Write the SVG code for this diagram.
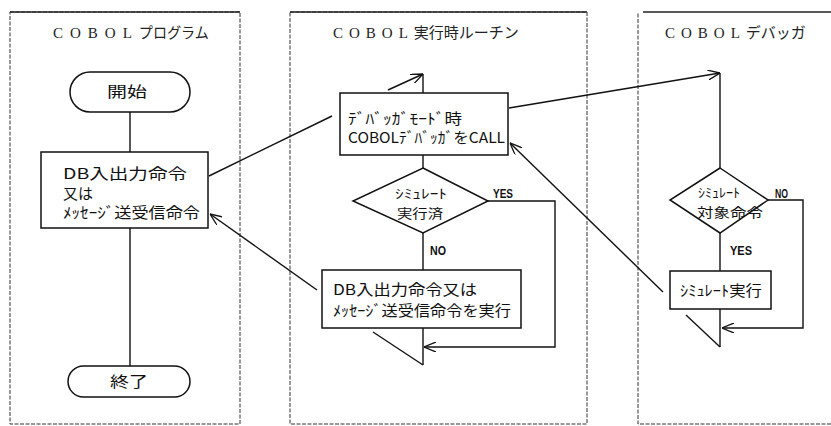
<svg xmlns="http://www.w3.org/2000/svg" width="831" height="426" viewBox="0 0 831 426">
<style>
.frame{fill:none;stroke:#333;stroke-width:1;stroke-dasharray:4 1.5}
.topb{stroke:#222;stroke-width:1.5;fill:none}
.shape{fill:#fff;stroke:#111;stroke-width:1.5}
.ln{fill:none;stroke:#111;stroke-width:1.4}
.title{font-family:"Liberation Serif","Noto Sans CJK JP",serif;font-size:15px;fill:#222}
.t{font-family:"Noto Sans CJK JP","Liberation Sans",sans-serif;font-size:15px;fill:#111}
.d{font-family:"Noto Sans CJK JP","Liberation Sans",sans-serif;font-size:13px;fill:#111}
.lab{font-family:"Liberation Sans","Noto Sans CJK JP",sans-serif;font-size:12px;font-weight:bold;fill:#111}
</style>
<defs>
<marker id="ah" viewBox="0 0 12 10" refX="12" refY="5" markerWidth="12" markerHeight="10" markerUnits="userSpaceOnUse" orient="auto">
<path d="M0,0 L12,5 L0,10" fill="none" stroke="#111" stroke-width="1.3"/>
</marker>
</defs>

<g id="frames">
<rect class="frame" x="10" y="12" width="230" height="412"/>
<line class="topb" x1="10" y1="12" x2="240" y2="12"/>
<rect class="frame" x="290" y="12" width="297" height="412"/>
<line class="topb" x1="290" y1="12" x2="587" y2="12"/>
<path class="frame" d="M831,424 L638,424 L638,12"/>
<line class="topb" x1="643" y1="12" x2="831" y2="12"/>
<text class="title" x="53" y="38"><tspan letter-spacing="7">COBOL</tspan><tspan textLength="70" lengthAdjust="spacingAndGlyphs">プログラム</tspan></text>
<text class="title" x="333" y="38"><tspan letter-spacing="6">COBOL</tspan><tspan>実行時ルーチン</tspan></text>
<text class="title" x="665" y="38"><tspan letter-spacing="6">COBOL</tspan><tspan>デバッガ</tspan></text>
</g>

<g id="connectors">
<line class="ln" x1="130" y1="112" x2="130" y2="152"/>
<line class="ln" x1="130" y1="228" x2="130" y2="366"/>
<line class="ln" x1="209" y1="176" x2="332" y2="116"/>
<line class="ln" x1="317" y1="290" x2="210" y2="214" marker-end="url(#ah)"/>
<line class="ln" x1="388" y1="90" x2="423" y2="74" marker-end="url(#ah)"/>
<line class="ln" x1="423" y1="74" x2="423" y2="93"/>
<line class="ln" x1="423" y1="155" x2="423" y2="168"/>
<line class="ln" x1="423" y1="233" x2="423" y2="270"/>
<line class="ln" x1="423" y1="328" x2="423" y2="365"/>
<line class="ln" x1="373" y1="332" x2="423" y2="365"/>
<polyline class="ln" points="488,201 555,201 555,347 424,347" marker-end="url(#ah)"/>
<line class="ln" x1="509" y1="108" x2="720" y2="73" marker-end="url(#ah)"/>
<line class="ln" x1="720" y1="73" x2="720" y2="168"/>
<line class="ln" x1="720" y1="233" x2="720" y2="271"/>
<line class="ln" x1="720" y1="309" x2="720" y2="347"/>
<line class="ln" x1="686" y1="315" x2="720" y2="347"/>
<polyline class="ln" points="768,200 803,200 803,328 722,328" marker-end="url(#ah)"/>
<line class="ln" x1="663" y1="292" x2="510" y2="143" marker-end="url(#ah)"/>
<text class="lab" x="493" y="198" textLength="20" lengthAdjust="spacingAndGlyphs">YES</text>
<text class="lab" x="430" y="255" textLength="16" lengthAdjust="spacingAndGlyphs">NO</text>
<text class="lab" x="775" y="198" textLength="13" lengthAdjust="spacingAndGlyphs">NO</text>
<text class="lab" x="730" y="255" textLength="22" lengthAdjust="spacingAndGlyphs">YES</text>
</g>

<g id="start">
<rect class="shape" x="70" y="72" width="120" height="40" rx="20"/>
<text class="t" x="107" y="97" textLength="40" lengthAdjust="spacingAndGlyphs">開始</text>
</g>

<g id="db-io">
<rect class="shape" x="41" y="152" width="167" height="76"/>
<text class="t" x="63" y="179" textLength="124" lengthAdjust="spacingAndGlyphs">DB入出力命令</text>
<text class="t" x="63" y="199" textLength="30" lengthAdjust="spacingAndGlyphs">又は</text>
<text class="t" x="63" y="218" textLength="137" lengthAdjust="spacingAndGlyphs">ﾒｯｾｰｼﾞ送受信命令</text>
</g>

<g id="end">
<rect class="shape" x="68" y="366" width="122" height="31" rx="15.5"/>
<text class="t" x="110" y="387" textLength="38" lengthAdjust="spacingAndGlyphs">終了</text>
</g>

<g id="debug-call">
<rect class="shape" x="340" y="93" width="168" height="62"/>
<text class="t" x="348" y="124" textLength="114" lengthAdjust="spacingAndGlyphs">ﾃﾞﾊﾞｯｶﾞﾓｰﾄﾞ時</text>
<text class="t" x="348" y="143" textLength="157" lengthAdjust="spacingAndGlyphs">COBOLﾃﾞﾊﾞｯｶﾞをCALL</text>
</g>

<g id="sim-done">
<polygon class="shape" points="423,168 488,201 423,233 353,201"/>
<text class="d" x="395" y="198" textLength="52" lengthAdjust="spacingAndGlyphs">ｼﾐｭﾚｰﾄ</text>
<text class="d" x="397" y="218" textLength="46" lengthAdjust="spacingAndGlyphs">実行済</text>
</g>

<g id="exec-io">
<rect class="shape" x="322" y="270" width="199" height="58"/>
<text class="t" x="333" y="295" textLength="144" lengthAdjust="spacingAndGlyphs">DB入出力命令又は</text>
<text class="t" x="333" y="316" textLength="178" lengthAdjust="spacingAndGlyphs">ﾒｯｾｰｼﾞ送受信命令を実行</text>
</g>

<g id="sim-target">
<polygon class="shape" points="720,168 768,200 720,233 670,200"/>
<text class="d" x="698" y="197" textLength="42" lengthAdjust="spacingAndGlyphs">ｼﾐｭﾚｰﾄ</text>
<text class="d" x="697" y="217" textLength="66" lengthAdjust="spacingAndGlyphs">対象命令</text>
</g>

<g id="sim-exec">
<rect class="shape" x="670" y="271" width="101" height="38"/>
<text class="t" x="680" y="296" textLength="82" lengthAdjust="spacingAndGlyphs">ｼﾐｭﾚｰﾄ実行</text>
</g>
</svg>
